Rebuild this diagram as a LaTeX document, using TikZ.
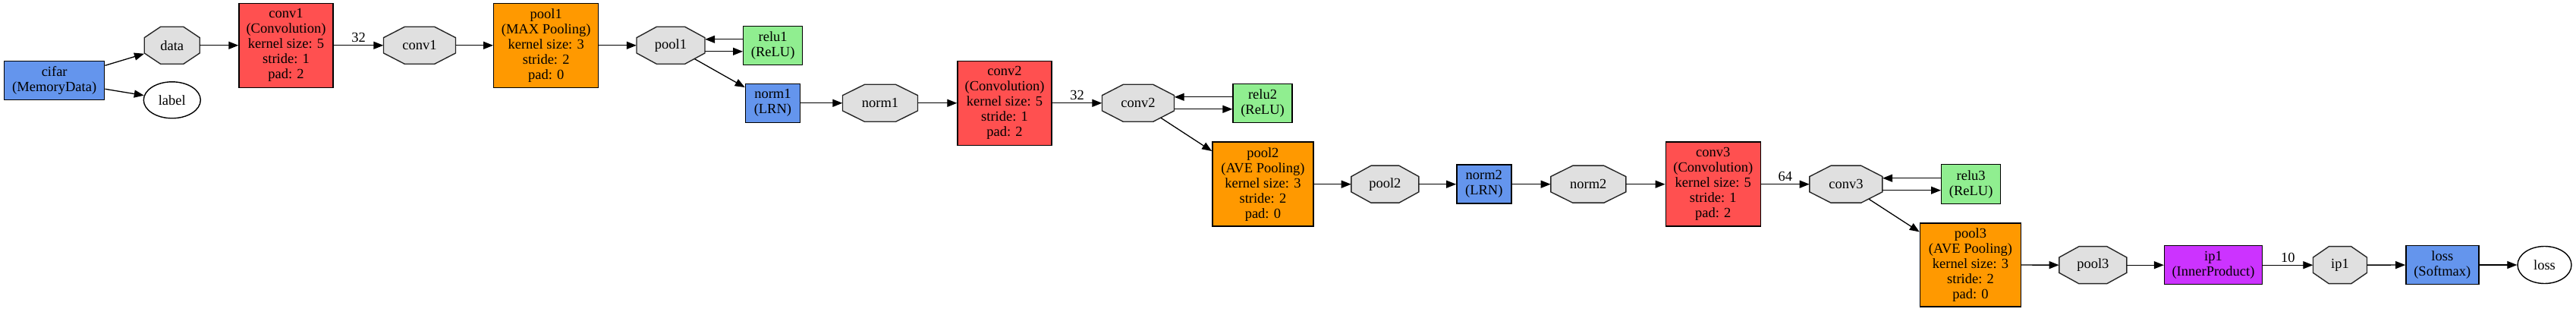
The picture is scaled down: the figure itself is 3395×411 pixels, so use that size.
\documentclass[tikz,border=0pt]{standalone}
\usepackage{fontspec}
\setmainfont{Liberation Serif}
\usetikzlibrary{arrows.meta,shapes.geometric}
\definecolor{lblue}{HTML}{6495ED}
\definecolor{lred}{HTML}{FF5050}
\definecolor{lorange}{HTML}{FF9900}
\definecolor{lpurple}{HTML}{CC33FF}
\definecolor{lgreen}{HTML}{90EE90}
\definecolor{bgray}{HTML}{E0E0E0}
\tikzset{
  every node/.style={font=\fontsize{18.5}{20}\selectfont},
  lay/.style 2 args={rectangle, draw=black, line width=1.4pt, inner sep=0pt, align=center,
     minimum width=#1pt, minimum height=#2pt},
  blobtext/.style={rectangle, inner sep=0pt, minimum height=49pt, align=center},
  blobline/.style={draw=black!85, fill=bgray, line width=1.4pt, line join=miter},
  endblob/.style={ellipse, draw=black, line width=1.4pt, fill=white, inner sep=0pt},
  conn/.style={draw=black, line width=1.3pt, -{Triangle[length=13pt,width=10pt]}},
  elabel/.style={above, inner sep=3pt, midway}
}
% octagon blob: name, x, y, width, text
\newcommand\blobnode[5]{%
  \pgfmathsetmacro\ba{#4/2}\pgfmathsetmacro\bc{0.293*#4}%
  \filldraw[blobline] ({#2-\ba},{#3-10.15}) -- ({#2-\ba+\bc},{#3-24.5}) -- ({#2+\ba-\bc},{#3-24.5})
    -- ({#2+\ba},{#3-10.15}) -- ({#2+\ba},{#3+10.15}) -- ({#2+\ba-\bc},{#3+24.5})
    -- ({#2-\ba+\bc},{#3+24.5}) -- ({#2-\ba},{#3+10.15}) -- cycle;
  \node[blobtext, minimum width=#4pt] (#1) at (#2,#3) {#5};
}
\begin{document}
\begin{tikzpicture}[x=1pt,y=-1pt]
\useasboundingbox (0,0) rectangle (3395,411);

% layers
\node[lay={132}{51}, fill=lblue] (cifar) at (71.7,106.3) {cifar\\(MemoryData)};
\node[lay={124}{111}, fill=lred] (conv1) at (377,59.8) {conv1\\(Convolution)\\kernel size: 5\\stride: 1\\pad: 2};
\node[lay={138}{111}, fill=lorange] (pool1) at (719.7,59.8) {pool1\\(MAX Pooling)\\kernel size: 3\\stride: 2\\pad: 0};
\node[lay={78}{51}, fill=lgreen] (relu1) at (1018.7,59.8) {relu1\\(ReLU)};
\node[lay={72}{51}, fill=lblue] (norm1) at (1018.4,135.8) {norm1\\(LRN)};
\node[lay={124}{111}, fill=lred] (conv2) at (1324,135.8) {conv2\\(Convolution)\\kernel size: 5\\stride: 1\\pad: 2};
\node[lay={78}{51}, fill=lgreen] (relu2) at (1664,135.8) {relu2\\(ReLU)};
\node[lay={133}{111}, fill=lorange] (pool2) at (1664.4,242.7) {pool2\\(AVE Pooling)\\kernel size: 3\\stride: 2\\pad: 0};
\node[lay={72}{51}, fill=lblue] (norm2) at (1955.8,242.7) {norm2\\(LRN)};
\node[lay={125}{111}, fill=lred] (conv3) at (2257.8,242.7) {conv3\\(Convolution)\\kernel size: 5\\stride: 1\\pad: 2};
\node[lay={78}{52}, fill=lgreen] (relu3) at (2597.7,242.7) {relu3\\(ReLU)};
\node[lay={133}{110}, fill=lorange] (pool3) at (2597,349) {pool3\\(AVE Pooling)\\kernel size: 3\\stride: 2\\pad: 0};
\node[lay={129}{51}, fill=lpurple] (ip1) at (2917,349.2) {ip1\\(InnerProduct)};
\node[lay={96}{51}, fill=lblue] (lossL) at (3218.8,349) {loss\\(Softmax)};

% blobs
\blobnode{data}{226.7}{59.8}{73}{data}
\node[endblob, minimum width=75pt, minimum height=48pt] (label) at (226.8,131.8) {label};
\blobnode{conv1o}{553}{59.8}{95}{conv1}
\blobnode{pool1o}{884}{59.8}{90}{pool1}
\blobnode{norm1o}{1160}{135.8}{99}{norm1}
\blobnode{conv2o}{1500}{135.8}{95}{conv2}
\blobnode{pool2o}{1825.4}{242.7}{89}{pool2}
\blobnode{norm2o}{2093.3}{242.7}{99}{norm2}
\blobnode{conv3o}{2432.9}{242.7}{96}{conv3}
\blobnode{pool3o}{2758.3}{349.2}{89}{pool3}
\blobnode{ip1o}{3084}{349.2}{71}{ip1}
\node[endblob, minimum width=71pt, minimum height=49pt] (lossB) at (3353.5,349) {loss};

% connectors
\draw[conn] (cifar) -- (data);
\draw[conn] (cifar) -- (label);
\draw[conn] (data) -- (conv1);
\draw[conn] (conv1) -- node[elabel] {32} (conv1o);
\draw[conn] (conv1o) -- (pool1);
\draw[conn] (pool1) -- (pool1o);
\draw[conn] ([yshift=8pt]relu1.west) -- ([yshift=8pt]pool1o.east);
\draw[conn] ([yshift=-8pt]pool1o.east) -- ([yshift=-8pt]relu1.west);
\draw[conn, shorten <=-14pt] (pool1o) -- (norm1);
\draw[conn] (norm1) -- (norm1o);
\draw[conn] (norm1o) -- (conv2);
\draw[conn] (conv2) -- node[elabel] {32} (conv2o);
\draw[conn] ([yshift=8pt]relu2.west) -- ([yshift=8pt]conv2o.east);
\draw[conn] ([yshift=-8pt]conv2o.east) -- ([yshift=-8pt]relu2.west);
\draw[conn, shorten <=-9.5pt] (conv2o) -- (pool2);
\draw[conn] (pool2) -- (pool2o);
\draw[conn] (pool2o) -- (norm2);
\draw[conn] (norm2) -- (norm2o);
\draw[conn] (norm2o) -- (conv3);
\draw[conn] (conv3) -- node[elabel] {64} (conv3o);
\draw[conn] ([yshift=8pt]relu3.west) -- ([yshift=8pt]conv3o.east);
\draw[conn] ([yshift=-8pt]conv3o.east) -- ([yshift=-8pt]relu3.west);
\draw[conn, shorten <=-9.4pt] (conv3o) -- (pool3);
\draw[conn] (pool3) -- (pool3o);
\draw[conn] (pool3o) -- (ip1);
\draw[conn] (ip1) -- node[elabel] {10} (ip1o);
\draw[conn] (ip1o) -- (lossL);
\draw[conn] (lossL) -- (lossB);
\end{tikzpicture}
\end{document}
